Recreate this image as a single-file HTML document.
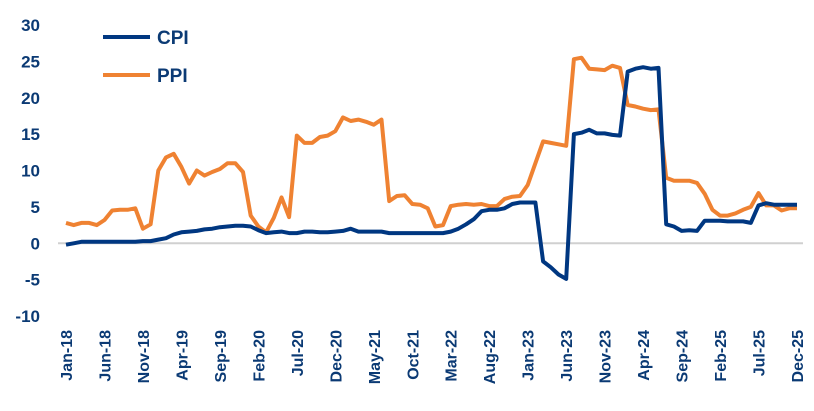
<!DOCTYPE html>
<html><head><meta charset="utf-8"><style>
html,body{margin:0;padding:0;background:#fff;}
svg text{font-family:"Liberation Sans",sans-serif;font-weight:bold;fill:#0b3a74;}
</style></head><body>
<svg width="814" height="406" id="chart"></svg>
<script>
const months=["Jan","Feb","Mar","Apr","May","Jun","Jul","Aug","Sep","Oct","Nov","Dec"];
const categories=[];for(let y=18;y<=25;y++)for(const m of months)categories.push(m+"-"+y);
const cpi=[-0.2,0,0.2,0.2,0.2,0.2,0.2,0.2,0.2,0.2,0.3,0.3,0.5,0.7,1.2,1.5,1.6,1.7,1.9,2.0,2.2,2.3,2.4,2.4,2.3,1.8,1.4,1.5,1.6,1.4,1.4,1.6,1.6,1.5,1.5,1.6,1.7,2.0,1.6,1.6,1.6,1.6,1.4,1.4,1.4,1.4,1.4,1.4,1.4,1.4,1.6,2.0,2.6,3.3,4.4,4.6,4.6,4.8,5.4,5.6,5.6,5.6,-2.5,-3.3,-4.3,-4.9,15,15.2,15.6,15.1,15.1,14.9,14.8,23.6,24,24.2,24,24.1,2.6,2.3,1.7,1.8,1.7,3.1,3.1,3.1,3.0,3.0,3.0,2.8,5.2,5.5,5.3,5.3,5.3,5.3];
const ppi=[2.8,2.5,2.8,2.8,2.5,3.2,4.5,4.6,4.6,4.8,2.0,2.6,10,11.8,12.3,10.5,8.2,10,9.3,9.8,10.2,11,11,9.8,3.8,2.3,1.5,3.5,6.3,3.6,14.8,13.8,13.8,14.6,14.8,15.4,17.3,16.8,17,16.7,16.3,17,5.8,6.5,6.6,5.4,5.3,4.8,2.3,2.5,5.1,5.3,5.4,5.3,5.4,5.1,5.1,6.1,6.4,6.5,8,11,14,13.8,13.6,13.4,25.3,25.5,24,23.9,23.8,24.4,24.1,19,18.8,18.5,18.3,18.4,9,8.6,8.6,8.6,8.3,6.8,4.6,3.8,3.8,4.1,4.6,5,6.9,5.2,5.2,4.5,4.8,4.8];
const yTicks=[-10,-5,0,5,10,15,20,25,30];
const svg=document.getElementById('chart');const NS="http://www.w3.org/2000/svg";
const x0=66,x1=797,yTop=25,yBot=316,yMin=-10,yMax=30;
const X=i=>x0+(x1-x0)*i/(categories.length-1);
const Y=v=>yBot-(v-yMin)/(yMax-yMin)*(yBot-yTop);
function mk(t,a,txt){const e=document.createElementNS(NS,t);for(const k in a)e.setAttribute(k,a[k]);if(txt!=null)e.textContent=txt;svg.appendChild(e);return e;}
let z=mk('line',{x1:x0-8,x2:x1+6,y1:Y(0),y2:Y(0),stroke:'#d0d0d0','stroke-width':2});


yTicks.forEach(v=>{const t=mk('text',{x:40,y:Y(v)+6,'text-anchor':'end','font-size':17},String(v));

});
categories.forEach((c,i)=>{if(i%5!==0)return;const xx=X(i)+6;const t=mk('text',{x:0,y:0,'text-anchor':'end','font-size':16,transform:`translate(${xx},330) rotate(-90)`},c);

});
function line(d,col,name){const p=mk('polyline',{points:d.map((v,i)=>X(i).toFixed(1)+','+Y(v).toFixed(1)).join(' '),fill:'none',stroke:col,'stroke-width':4,'stroke-linejoin':'round'});

}
line(ppi,'#ef8232','ppi-line');
line(cpi,'#003781','cpi-line');
[['CPI','#003781',37],['PPI','#ef8232',75]].forEach(([n,c,y])=>{
const l=mk('line',{x1:103,x2:150,y1:y,y2:y,stroke:c,'stroke-width':4});


const t=mk('text',{x:157,y:y+7,'font-size':19},n);

});
</script>
</body></html>
